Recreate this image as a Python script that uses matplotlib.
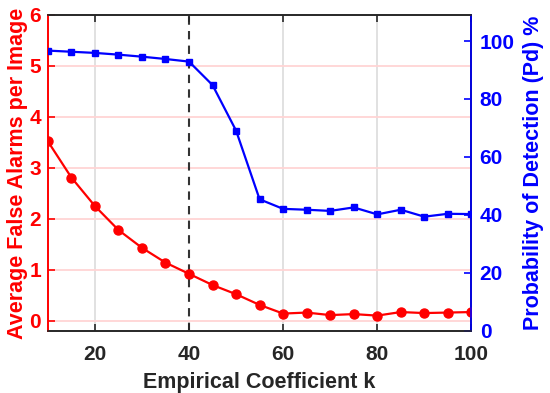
import matplotlib
matplotlib.use('Agg')
import matplotlib.pyplot as plt

plt.rcParams['font.family'] = ['Liberation Sans', 'DejaVu Sans']
plt.rcParams['font.weight'] = 'bold'

k_values = [10, 15, 20, 25, 30, 35, 40, 45, 50, 55,
            60, 65, 70, 75, 80, 85, 90, 95, 100]
false_alarms = [3.52, 2.81, 2.25, 1.78, 1.43, 1.14, 0.92, 0.70, 0.52, 0.31,
                0.14, 0.16, 0.11, 0.13, 0.10, 0.17, 0.15, 0.16, 0.17]
pd_percent = [96.7, 96.3, 95.9, 95.3, 94.6, 93.8, 92.9, 84.8, 69.1, 45.4,
              42.1, 41.8, 41.4, 42.6, 40.2, 41.8, 39.4, 40.4, 40.3]
x_ticks = [20, 40, 60, 80, 100]
left_ticks = [0, 1, 2, 3, 4, 5, 6]
right_ticks = [0, 20, 40, 60, 80, 100]
selected_k = 40

fig = plt.figure(figsize=(5.5, 3.93), dpi=100)
ax = fig.add_axes([0.087, 0.158, 0.77, 0.804])
ax2 = ax.twinx()

# grid
for xt in x_ticks:
    if xt != selected_k:
        ax.axvline(xt, color='#dedede', lw=1.3, zorder=0)
for yt in left_ticks[:-1]:
    ax.axhline(yt, color='#ffd4d4', lw=1.3, zorder=0)
ax.axvline(selected_k, color='#333333', lw=1.5, ls=(0, (4, 3)), zorder=1)

ax.plot(k_values, false_alarms, color='red', lw=1.6, marker='o', ms=6.5, zorder=3)
ax2.plot(k_values, pd_percent, color='blue', lw=1.6, marker='s', ms=4.6, zorder=3)

ax.set_xlim(10, 100)
ax.set_ylim(-0.2, 6)
ax2.set_ylim(0, 109)
ax.set_xticks(x_ticks)
ax.set_yticks(left_ticks)
ax2.set_yticks(right_ticks)

ax.tick_params(axis='x', direction='in', top=True, labelsize=15, colors='#262626',
               length=5, width=1.2, pad=10)
ax.tick_params(axis='y', direction='in', labelsize=15, colors='red', length=5,
               width=1.2, pad=5)
ax2.tick_params(axis='y', direction='in', labelsize=15, colors='blue', length=5,
                width=1.2, pad=6)

ax.spines['left'].set_color('red')
ax2.spines['left'].set_color('red')
ax2.spines['right'].set_color('blue')
for sp in ['top', 'bottom']:
    ax.spines[sp].set_color('#262626')
    ax2.spines[sp].set_color('#262626')
for a in (ax, ax2):
    for sp in a.spines.values():
        sp.set_linewidth(1.2)

ax.set_xlabel('Empirical Coefficient k', fontsize=15.5, fontweight='bold',
              color='#262626', labelpad=6)
ax.set_ylabel('Average False Alarms per Image', fontsize=15.5, fontweight='bold',
              color='red', labelpad=1)
ax2.set_ylabel('Probability of Detection (Pd) %', fontsize=15.5, fontweight='bold',
               color='blue', labelpad=6)

fig.savefig('out.png', dpi=100)
